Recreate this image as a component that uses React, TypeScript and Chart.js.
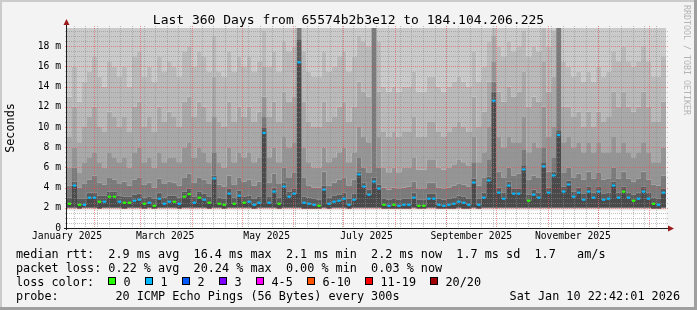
import React, { useEffect, useRef } from "react";
import { Chart, registerables } from "chart.js";

Chart.register(...registerables);

// ---------- text ----------
const TITLE = "Last 360 Days from 65574b2b3e12 to 184.104.206.225";
const Y_TITLE = "Seconds";
const WATERMARK = "RRDTOOL / TOBI OETIKER";
const LEGEND_RTT = "median rtt:  2.9 ms avg  16.4 ms max  2.1 ms min  2.2 ms now  1.7 ms sd  1.7   am/s";
const LEGEND_LOSS = "packet loss: 0.22 % avg  20.24 % max  0.00 % min  0.03 % now";
const LEGEND_COLOR = "loss color:";
const LEGEND_PROBE = "probe:        20 ICMP Echo Pings (56 Bytes) every 300s";
const STAMP = "Sat Jan 10 22:42:01 2026";

const lossLabels = ["0", "1", "2", "3", "4-5", "6-10", "11-19", "20/20"];
const lossColors = ["#26ff00", "#00b8ff", "#0059ff", "#7e00ff", "#ff00ff", "#ff5500", "#ff0000", "#a10000"];

// ---------- axes (x in days since 15 Jan 2025) ----------
const X_MIN = 1;
const X_MAX = 361;
const STEP_DAYS = 3;
const Y_MAX = 19.8;
const xTickDays = [1, 60, 121, 181, 244, 305];
const xTickLabels = ["January 2025", "March 2025", "May 2025", "July 2025", "September 2025", "November 2025"];
const monthStartDays = [17, 45, 76, 106, 137, 167, 198, 229, 259, 290, 320, 351];
const FIRST_MONDAY = 5;
const yTicks = [0, 2, 4, 6, 8, 10, 12, 14, 16, 18];
const yTickLabels = ["0", "2 m", "4 m", "6 m", "8 m", "10 m", "12 m", "14 m", "16 m", "18 m"];

// ---------- data (ms), one value per 3-day step ----------
const median = [
  2.4, 4.2, 2.3, 2.3, 3.0, 3.0, 2.6, 2.6, 3.1, 3.1,
  2.6, 2.5, 2.5, 2.7, 2.8, 2.4, 2.5, 2.2, 2.9, 2.4,
  2.6, 2.6, 2.4, 3.1, 3.35, 2.5, 3.0, 2.8, 2.5, 4.9,
  2.4, 2.3, 3.4, 2.4, 3.2, 2.5, 2.6, 2.3, 2.5, 9.4,
  2.5, 3.6, 2.4, 4.1, 3.1, 3.4, 16.4, 2.5, 2.4, 2.3,
  2.2, 3.8, 2.4, 2.6, 2.7, 2.9, 2.3, 2.8, 5.3, 4.1,
  3.3, 4.6, 3.9, 2.3, 2.2, 2.3, 2.2, 2.3, 2.3, 3.0,
  2.2, 2.2, 2.9, 2.9, 2.3, 2.2, 2.3, 2.4, 2.6, 2.5,
  2.3, 4.5, 2.3, 3.0, 4.7, 12.6, 3.5, 2.9, 4.2, 3.4,
  3.4, 5.8, 2.7, 3.3, 3.0, 6.1, 3.5, 5.2, 9.2, 3.6,
  4.3, 3.1, 3.5, 2.8, 3.6, 3.0, 3.6, 2.8, 2.9, 4.2,
  3.0, 3.6, 3.0, 2.7, 2.9, 3.6, 2.9, 2.4, 2.3, 3.5,
];
// loss class index into lossColors
const lossClass = [
  0, 1, 0, 1, 1, 1, 0, 1, 0, 0,
  1, 0, 0, 1, 1, 0, 1, 0, 1, 1,
  1, 0, 1, 0, 0, 1, 0, 1, 0, 1,
  0, 0, 1, 0, 1, 0, 1, 1, 1, 1,
  1, 1, 0, 1, 1, 1, 1, 1, 1, 1,
  0, 1, 1, 1, 1, 1, 1, 1, 1, 1,
  1, 1, 1, 0, 1, 0, 1, 1, 1, 1,
  0, 0, 1, 1, 1, 1, 1, 1, 1, 1,
  1, 1, 1, 1, 1, 1, 1, 1, 1, 1,
  1, 1, 0, 1, 1, 1, 1, 1, 1, 1,
  1, 1, 1, 1, 1, 1, 1, 1, 1, 1,
  1, 0, 1, 0, 1, 1, 1, 0, 1, 1,
];
const minRtt = [
  2.0, 2.0, 1.9, 2.0, 2.0, 2.0, 1.9, 2.0, 2.0, 2.0,
  2.0, 1.9, 2.0, 2.0, 2.0, 1.9, 2.0, 1.9, 2.0, 2.0,
  2.0, 2.0, 1.9, 2.0, 2.0, 2.0, 2.0, 2.0, 1.9, 2.0,
  2.0, 1.9, 2.0, 2.0, 2.0, 2.0, 2.0, 1.9, 2.0, 2.0,
  2.0, 2.0, 1.9, 2.0, 2.0, 2.0, 2.0, 1.9, 1.9, 1.9,
  1.9, 2.0, 1.9, 2.0, 2.0, 2.0, 1.9, 2.0, 2.0, 2.0,
  2.0, 2.0, 2.0, 1.9, 1.9, 1.9, 1.9, 1.9, 1.9, 2.0,
  1.9, 1.9, 2.0, 2.0, 1.9, 1.9, 1.9, 1.9, 2.0, 1.9,
  1.9, 2.0, 1.9, 2.0, 2.0, 2.0, 2.0, 2.0, 2.0, 2.0,
  2.0, 2.0, 2.0, 2.0, 2.0, 2.0, 2.0, 2.0, 2.0, 2.0,
  2.0, 2.0, 2.0, 2.0, 2.0, 2.0, 2.0, 2.0, 2.0, 2.0,
  2.0, 2.0, 2.0, 2.0, 2.0, 2.0, 2.0, 1.9, 1.9, 2.0,
];
const smoke1 = [
  3.0, 4.6, 2.9, 2.9, 3.5, 3.5, 3.2, 3.2, 3.6, 3.6,
  3.2, 3.1, 3.1, 3.3, 3.4, 3.0, 3.1, 2.9, 3.5, 3.0,
  3.2, 3.2, 3.0, 3.6, 3.9, 3.1, 3.6, 3.4, 3.1, 5.2,
  3.0, 2.9, 3.9, 3.0, 3.7, 3.1, 3.2, 2.9, 3.1, 9.9,
  3.1, 4.0, 3.0, 4.5, 3.6, 3.9, 18.6, 3.1, 3.0, 2.9,
  2.8, 4.2, 3.0, 3.2, 3.3, 3.5, 2.9, 3.4, 5.6, 4.5,
  3.8, 5.0, 4.3, 2.9, 2.8, 2.9, 2.8, 2.9, 2.9, 3.5,
  2.8, 2.8, 3.4, 3.4, 2.9, 2.8, 2.9, 3.0, 3.2, 3.1,
  2.9, 4.9, 2.9, 3.5, 5.1, 13.5, 4.0, 3.5, 4.6, 3.9,
  3.9, 6.2, 3.3, 3.8, 3.5, 6.5, 4.0, 5.6, 9.6, 4.1,
  4.7, 3.6, 4.0, 3.4, 4.1, 3.5, 4.1, 3.4, 3.5, 4.6,
  3.5, 4.1, 3.5, 3.3, 3.5, 4.1, 3.5, 3.0, 2.9, 3.9,
];
const smoke2 = [
  4.2, 6.0, 4.0, 4.4, 4.8, 5.2, 4.5, 4.3, 5.0, 4.8,
  4.4, 4.6, 4.2, 4.8, 5.0, 4.3, 4.5, 4.0, 4.9, 4.4,
  4.6, 4.5, 4.2, 5.0, 5.4, 4.5, 5.0, 4.8, 4.4, 7.5,
  4.3, 4.1, 5.2, 4.3, 5.0, 4.6, 4.8, 4.2, 4.6, 11.0,
  4.5, 5.4, 4.4, 6.0, 5.0, 5.5, 19.8, 5.0, 4.2, 4.0,
  4.0, 5.6, 4.2, 4.5, 4.8, 5.0, 4.2, 4.8, 7.0, 6.0,
  5.5, 19.8, 6.0, 4.0, 3.8, 4.0, 3.9, 4.0, 4.1, 4.6,
  3.9, 3.9, 4.5, 4.5, 4.0, 3.9, 4.0, 4.2, 4.4, 4.3,
  4.1, 6.5, 4.2, 5.0, 6.8, 14.5, 5.6, 5.0, 6.0, 5.2,
  5.4, 7.8, 4.8, 5.2, 5.0, 8.0, 5.6, 7.0, 19.8, 5.5,
  6.0, 5.0, 5.4, 4.8, 5.6, 4.9, 5.5, 4.8, 4.9, 6.0,
  4.9, 5.6, 4.9, 4.6, 4.9, 5.6, 4.8, 4.3, 4.2, 5.2,
];
const smoke3 = [
  6.0, 8.0, 5.5, 6.5, 7.0, 7.5, 6.5, 6.0, 7.5, 7.0,
  6.5, 7.0, 6.0, 7.5, 8.0, 6.5, 7.0, 6.0, 7.5, 6.5,
  7.0, 7.0, 6.5, 8.0, 8.5, 7.0, 8.0, 7.5, 6.5, 11.0,
  6.5, 6.0, 8.0, 6.5, 7.5, 7.0, 7.5, 6.5, 7.0, 13.0,
  7.0, 8.0, 6.5, 9.0, 8.0, 8.5, 19.8, 8.0, 6.5, 6.0,
  6.0, 8.0, 6.5, 7.0, 7.5, 8.0, 6.5, 7.5, 10.0, 9.0,
  8.5, 19.8, 9.0, 6.0, 5.5, 6.0, 5.5, 6.0, 6.0, 7.0,
  5.8, 5.8, 6.8, 6.8, 6.0, 5.8, 6.0, 6.3, 6.8, 6.5,
  6.2, 9.0, 6.5, 7.5, 10.0, 16.5, 9.0, 8.0, 9.0, 8.5,
  8.5, 11.0, 7.5, 8.5, 8.0, 12.0, 9.0, 10.0, 19.8, 8.5,
  9.0, 8.0, 8.5, 7.5, 8.5, 7.5, 8.5, 7.5, 7.5, 9.0,
  7.5, 8.5, 7.5, 7.0, 7.5, 8.5, 7.5, 6.5, 6.5, 8.0,
];
const smoke4 = [
  9.0, 12.0, 8.5, 10.0, 11.0, 12.0, 10.0, 9.5, 11.5, 11.0,
  10.0, 11.0, 9.5, 12.0, 12.5, 10.0, 11.0, 9.5, 12.0, 10.5,
  11.5, 11.0, 10.0, 12.5, 13.0, 11.0, 12.5, 12.0, 10.5, 15.0,
  10.5, 10.0, 12.5, 10.5, 12.0, 11.0, 12.0, 10.5, 11.5, 16.0,
  11.0, 12.5, 10.5, 13.5, 12.5, 13.0, 19.8, 12.5, 10.5, 10.0,
  10.0, 12.5, 10.5, 11.0, 12.0, 12.5, 10.5, 12.0, 14.5, 13.5,
  13.0, 19.8, 13.5, 9.5, 9.0, 9.5, 9.0, 9.5, 9.5, 11.0,
  9.0, 9.0, 10.5, 10.5, 9.5, 9.0, 9.5, 10.0, 10.5, 10.0,
  9.5, 13.0, 10.0, 11.5, 14.5, 19.0, 13.5, 12.5, 14.0, 13.0,
  13.5, 15.5, 12.0, 13.0, 12.5, 16.5, 13.5, 15.0, 19.8, 12.0,
  12.0, 11.0, 11.5, 10.0, 11.5, 10.0, 11.5, 10.5, 11.0, 13.5,
  12.0, 13.5, 12.0, 11.5, 12.0, 13.5, 12.0, 10.5, 10.5, 12.5,
];
const smoke5 = [
  13.0, 16.0, 12.5, 14.5, 15.5, 17.0, 15.0, 14.0, 16.5, 16.0,
  15.0, 16.0, 14.0, 17.0, 17.5, 15.0, 16.0, 14.5, 17.0, 15.5,
  16.5, 16.0, 15.0, 17.5, 18.0, 16.0, 17.5, 17.0, 15.5, 19.0,
  15.5, 15.0, 17.5, 15.5, 17.0, 16.0, 17.0, 15.5, 16.5, 19.5,
  16.0, 17.5, 15.5, 18.5, 17.5, 18.0, 19.8, 17.5, 15.5, 15.0,
  15.0, 17.5, 15.5, 16.0, 17.0, 17.5, 15.5, 17.0, 19.0, 18.5,
  18.0, 19.8, 18.5, 14.0, 13.5, 14.0, 13.5, 14.0, 14.0, 15.5,
  13.5, 13.5, 15.0, 15.0, 14.0, 13.5, 14.0, 14.5, 15.0, 14.5,
  14.0, 17.5, 14.5, 16.0, 18.5, 19.8, 18.0, 17.0, 18.5, 17.5,
  18.0, 19.5, 17.0, 18.0, 17.5, 19.8, 18.0, 19.5, 19.8, 16.5,
  16.0, 15.0, 15.5, 14.5, 15.5, 14.5, 16.0, 15.0, 15.5, 17.5,
  16.5, 18.0, 16.5, 16.0, 16.5, 18.0, 16.5, 15.0, 15.0, 17.0,
];

const MONO = "'DejaVu Sans Mono', monospace";

function stepped(arr: number[]) {
  const pts = [];
  for (let j = 0; j <= arr.length; j++) {
    pts.push({ x: X_MIN + j * STEP_DAYS, y: arr[Math.min(j, arr.length - 1)] });
  }
  return pts;
}

function band(data: number[], color: string, fill: any) {
  return {
    type: "line",
    data: stepped(data),
    stepped: true,
    borderWidth: 0,
    borderColor: "transparent",
    backgroundColor: color,
    pointRadius: 0,
    fill,
  };
}

const rrdPlugin: any = {
  id: "rrd",
  beforeDraw(chart: any) {
    const { ctx, chartArea: a, width, height } = chart;
    ctx.save();
    ctx.fillStyle = "#f3f3f3";
    ctx.fillRect(0, 0, width, height);
    ctx.fillStyle = "#cbcbcb";
    ctx.fillRect(0, 0, width, 2);
    ctx.fillRect(0, 0, 2, height);
    ctx.fillStyle = "#9f9f9f";
    ctx.fillRect(0, height - 3, width, 3);
    ctx.fillRect(width - 3, 0, 3, height);
    ctx.fillStyle = "#ffffff";
    ctx.fillRect(a.left, a.top, a.right - a.left, a.bottom - a.top);
    // soft fade just below the smoke floor
    const ys = chart.scales.y;
    const yTop = ys.getPixelForValue(2.0);
    const g = ctx.createLinearGradient(0, yTop, 0, yTop + 5);
    g.addColorStop(0, "rgba(200,185,185,0.9)");
    g.addColorStop(1, "rgba(255,255,255,0)");
    ctx.fillStyle = g;
    ctx.fillRect(a.left, yTop, a.right - a.left, 5);
    ctx.restore();
  },
  beforeDatasetDraw(chart: any, args: any) {
    if (args.index !== 0) return;
    const { ctx, chartArea: a } = chart;
    const xs = chart.scales.x;
    const ys = chart.scales.y;
    ctx.save();
    ctx.lineWidth = 1;
    ctx.setLineDash([1, 1]);
    const hline = (y: number) => {
      ctx.beginPath();
      ctx.moveTo(a.left - 2, y);
      ctx.lineTo(a.right + 2, y);
      ctx.stroke();
    };
    const vline = (x: number) => {
      ctx.beginPath();
      ctx.moveTo(x, a.top - 2);
      ctx.lineTo(x, a.bottom + 2);
      ctx.stroke();
    };
    ctx.strokeStyle = "rgba(140,140,140,0.55)";
    for (let v = 0.5; v < Y_MAX; v += 0.5) {
      if (Math.abs(v / 2 - Math.round(v / 2)) < 1e-6) continue;
      hline(Math.round(ys.getPixelForValue(v)) + 0.5);
    }
    for (let d = FIRST_MONDAY; d < X_MAX; d += 7) {
      vline(Math.round(xs.getPixelForValue(d)) + 0.5);
    }
    ctx.strokeStyle = "rgba(225,80,80,0.6)";
    yTicks.forEach((v) => {
      if (v > 0) hline(Math.round(ys.getPixelForValue(v)) + 0.5);
    });
    monthStartDays.forEach((d) => vline(Math.round(xs.getPixelForValue(d)) + 0.5));
    ctx.restore();
  },
  afterDraw(chart: any) {
    const { ctx, chartArea: a, width } = chart;
    ctx.save();
    // axes
    ctx.strokeStyle = "#1e1e1e";
    ctx.lineWidth = 1;
    ctx.beginPath();
    ctx.moveTo(a.left - 0.5, a.bottom + 2);
    ctx.lineTo(a.left - 0.5, 24);
    ctx.moveTo(a.left - 3, a.bottom + 0.5);
    ctx.lineTo(668, a.bottom + 0.5);
    ctx.stroke();
    ctx.fillStyle = "#9a1a1a";
    ctx.beginPath();
    ctx.moveTo(a.left - 0.5, 19);
    ctx.lineTo(a.left - 3.5, 25);
    ctx.lineTo(a.left + 2.5, 25);
    ctx.closePath();
    ctx.fill();
    ctx.beginPath();
    ctx.moveTo(674, a.bottom + 0.5);
    ctx.lineTo(668, a.bottom - 2.5);
    ctx.lineTo(668, a.bottom + 3.5);
    ctx.closePath();
    ctx.fill();

    // title
    ctx.fillStyle = "#000";
    ctx.font = `13px ${MONO}`;
    ctx.textAlign = "center";
    ctx.textBaseline = "alphabetic";
    ctx.fillText(TITLE, width / 2, 24);

    // y title
    ctx.save();
    ctx.font = `11.8px ${MONO}`;
    ctx.translate(11, (a.top + a.bottom) / 2);
    ctx.rotate(-Math.PI / 2);
    ctx.textAlign = "center";
    ctx.textBaseline = "middle";
    ctx.fillText(Y_TITLE, 0, 0);
    ctx.restore();

    // watermark
    ctx.save();
    ctx.font = `8.3px ${MONO}`;
    ctx.fillStyle = "#b4b4b4";
    ctx.translate(686.5, 5);
    ctx.rotate(Math.PI / 2);
    ctx.textAlign = "left";
    ctx.textBaseline = "middle";
    ctx.fillText(WATERMARK, 0, 0);
    ctx.restore();

    // legend
    ctx.font = `11.8px ${MONO}`;
    ctx.textAlign = "left";
    ctx.textBaseline = "alphabetic";
    ctx.fillStyle = "#000";
    const cw = ctx.measureText("0").width;
    ctx.fillText(LEGEND_RTT, 16, 258);
    ctx.fillText(LEGEND_LOSS, 16, 272);
    ctx.fillText(LEGEND_COLOR, 16, 286);
    ctx.fillText(LEGEND_PROBE, 16, 300);
    let bx = 16 + 13 * cw;
    lossLabels.forEach((lab, k) => {
      const x0 = Math.round(bx);
      ctx.fillStyle = lossColors[k];
      ctx.fillRect(x0, 277, 8, 8);
      ctx.strokeStyle = "#000";
      ctx.lineWidth = 1;
      ctx.strokeRect(x0 + 0.5, 277.5, 7, 7);
      ctx.fillStyle = "#000";
      ctx.fillText(lab, x0 + 15.5, 286);
      bx += 15.5 + lab.length * cw + 2 * cw;
    });
    ctx.textAlign = "right";
    ctx.fillText(STAMP, 680, 300);
    ctx.restore();
  },
};

export default function App() {
  const ref = useRef<HTMLCanvasElement | null>(null);
  useEffect(() => {
    if (!ref.current) return;
    const markers = median.map((v, i) => ({ x: X_MIN + i * STEP_DAYS + STEP_DAYS / 2, y: v }));
    const markerColors = lossClass.map((c) => lossColors[c]);
    const chart = new Chart(ref.current, {
      type: "line",
      data: {
        datasets: [
          {
            type: "line",
            data: markers,
            showLine: false,
            pointStyle: "line",
            pointRadius: 1.6,
            pointBorderWidth: 2.2,
            pointBorderColor: markerColors,
            pointBackgroundColor: markerColors,
            borderColor: "transparent",
            borderWidth: 0,
            fill: false,
          } as any,
          band(minRtt, "#000", false),
          band(median, "#4a4a4a", "-1"),
          band(smoke1, "#5a5a5a", "-1"),
          band(smoke2, "#7a7a7a", "-1"),
          band(smoke3, "#959595", "-1"),
          band(smoke4, "#a9a9a9", "-1"),
          band(smoke5, "#bababa", "-1"),
          band(smoke5, "#cacaca", "end"),
        ] as any,
      },
      options: {
        animation: false,
        responsive: false,
        events: [],
        layout: { padding: { top: 28, right: 31, left: 0, bottom: 0 } },
        plugins: { legend: { display: false }, tooltip: { enabled: false }, title: { display: false } },
        scales: {
          x: {
            type: "linear",
            min: X_MIN,
            max: X_MAX,
            grid: { display: false, drawTicks: false },
            border: { display: false },
            afterBuildTicks: (s: any) => {
              s.ticks = xTickDays.map((v) => ({ value: v }));
            },
            afterFit: (s: any) => {
              s.height = 82;
            },
            ticks: {
              autoSkip: false,
              maxRotation: 0,
              padding: 3,
              color: "#000",
              font: { family: MONO, size: 9.7 },
              callback: (_v: any, i: number) => xTickLabels[i],
            },
          },
          y: {
            type: "linear",
            min: 0,
            max: Y_MAX,
            grid: { display: false, drawTicks: false },
            border: { display: false },
            afterBuildTicks: (s: any) => {
              s.ticks = yTicks.map((v) => ({ value: v }));
            },
            afterFit: (s: any) => {
              s.width = 67;
            },
            ticks: {
              padding: 6,
              color: "#000",
              font: { family: MONO, size: 9.7 },
              callback: (_v: any, i: number) => yTickLabels[i],
            },
          },
        },
      } as any,
      plugins: [rrdPlugin],
    });
    return () => chart.destroy();
  }, []);
  return (
    <div style={{ position: "absolute", left: 0, top: 0, width: 697, height: 310 }}>
      <canvas ref={ref} width={697} height={310} style={{ display: "block" }} />
    </div>
  );
}
